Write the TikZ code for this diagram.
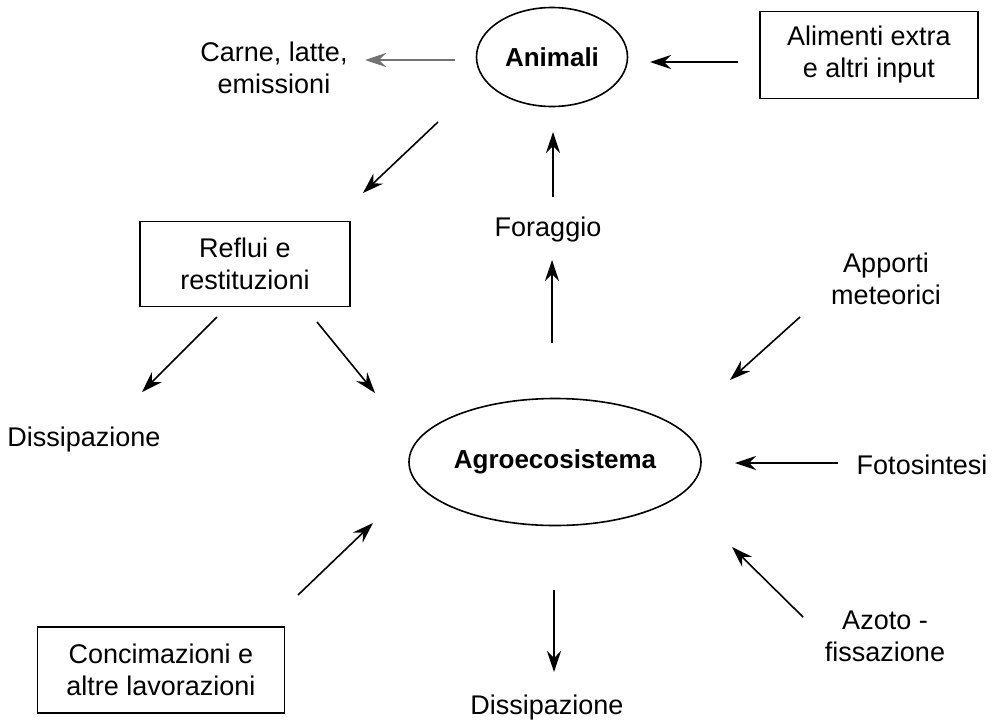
\documentclass[tikz,border=0pt]{standalone}
\usepackage{fontspec}
\setmainfont{Liberation Sans}
\usetikzlibrary{arrows.meta,shapes.geometric}
\begin{document}
\begin{tikzpicture}[x=1pt,y=-1pt,
  every node/.style={font=\fontsize{27}{32}\selectfont, align=center, inner sep=0pt},
  box/.style={draw, line width=1.8pt},
  oval/.style={draw, ellipse, line width=1.6pt, font=\bfseries\fontsize{26}{32}\selectfont},
  flow/.style={line width=1.6pt, -{Stealth[length=21pt,width=14pt,inset=7pt]}},
  greyflow/.style={flow, draw=black!55}]
\useasboundingbox (0,0) rectangle (995,723);
% nodes
\node[oval, minimum width=151pt, minimum height=99pt] (anim) at (552,57) {Animali};
\node[oval, minimum width=292pt, minimum height=127pt] (agro) at (555,462) {Agroecosistema};
\node (carne) at (274,68) {Carne, latte,\\emissioni};
\node[box, minimum width=218pt, minimum height=87pt] (alim) at (869,55) {Alimenti extra\\e altri input};
\node (forag) at (548,230) {Foraggio};
\node[box, minimum width=210pt, minimum height=85pt] (reflui) at (245,264) {Reflui e\\restituzioni};
\node (appo) at (886,279) {Apporti\\meteorici};
\node (dissl) at (84,440) {Dissipazione};
\node (foto) at (922,465) {Fotosintesi};
\node (azoto) at (885,636) {Azoto -\\fissazione};
\node (dissb) at (547,708) {Dissipazione};
\node[box, minimum width=247pt, minimum height=86pt] (conc) at (161,670) {Concimazioni e\\altre lavorazioni};
% arrow end points
\coordinate (a1s) at (455,60);  \coordinate (a1e) at (365,60);
\coordinate (a2s) at (738,62);  \coordinate (a2e) at (650,62);
\coordinate (a3s) at (438,122); \coordinate (a3e) at (363,193);
\coordinate (a4s) at (553,197); \coordinate (a4e) at (553,132);
\coordinate (a5s) at (552,343); \coordinate (a5e) at (552,260);
\coordinate (a6s) at (800,317); \coordinate (a6e) at (730,380);
\coordinate (a7s) at (217,317); \coordinate (a7e) at (142,392);
\coordinate (a8s) at (317,322); \coordinate (a8e) at (375,393);
\coordinate (a9s) at (838,463); \coordinate (a9e) at (735,463);
\coordinate (a10s) at (298,595); \coordinate (a10e) at (373,523);
\coordinate (a11s) at (803,617); \coordinate (a11e) at (732,547);
\coordinate (a12s) at (554,590); \coordinate (a12e) at (554,672);
% connectors
\draw[greyflow] (a1s) -- (a1e);
\draw[flow] (a2s) -- (a2e);
\draw[flow] (a3s) -- (a3e);
\draw[flow] (a4s) -- (a4e);
\draw[flow] (a5s) -- (a5e);
\draw[flow] (a6s) -- (a6e);
\draw[flow] (a7s) -- (a7e);
\draw[flow] (a8s) -- (a8e);
\draw[flow] (a9s) -- (a9e);
\draw[flow] (a10s) -- (a10e);
\draw[flow] (a11s) -- (a11e);
\draw[flow] (a12s) -- (a12e);
\end{tikzpicture}
\end{document}
